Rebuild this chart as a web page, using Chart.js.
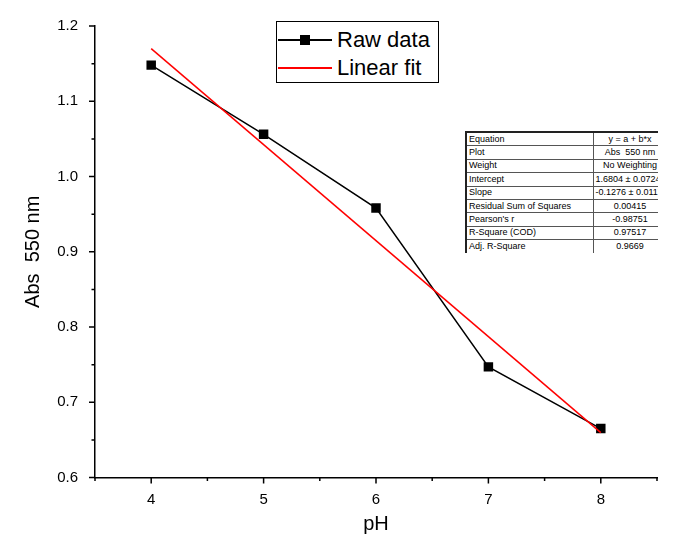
<!DOCTYPE html>
<html>
<head>
<meta charset="utf-8">
<script src="https://cdn.jsdelivr.net/npm/chart.js@4.4.0/dist/chart.umd.min.js"></script>
<style>
  html, body { margin: 0; padding: 0; background: #fff; }
  #wrap { position: relative; width: 675px; height: 549px; font-family: "Liberation Sans", Arial, sans-serif; }
  #wrap canvas { display: block; }
  .legend { position: absolute; left: 276px; top: 21px; width: 163px; height: 62px; border: 1px solid #000; box-sizing: border-box; background: #fff; }
  .legend .row { position: absolute; left: 0; height: 28px; width: 100%; }
  .legend .line { position: absolute; left: 1px; width: 54px; top: 13px; height: 2px; background: #000; }
  .legend .line.red { background: #ff0000; }
  .legend .mark { position: absolute; left: 23px; top: 9px; width: 10px; height: 10px; background: #000; }
  .legend .txt { position: absolute; left: 60px; top: 0; font-size: 22px; line-height: 28px; color: #000; white-space: nowrap; }
  .stats { position: absolute; left: 465px; top: 131px; width: 193px; height: 122px; overflow: hidden; background: #fff; }
  .stats table { border-collapse: collapse; width: 201px; table-layout: fixed; font-size: 9px; color: #000; border-top: 2px solid #222; border-left: 2px solid #222; }
  .stats td { border: 1px solid #555; height: 12.4px; padding: 0 2px; line-height: 11px; white-space: nowrap; overflow: hidden; }
  .stats td.v { text-align: center; }
</style>
</head>
<body>
<div id="wrap">
  <canvas id="absChart" width="675" height="549"></canvas>
  <div class="legend">
    <div class="row" style="top:4px"><span class="line"></span><span class="mark"></span><span class="txt">Raw data</span></div>
    <div class="row" style="top:32px"><span class="line red"></span><span class="txt">Linear fit</span></div>
  </div>
  <div class="stats"><table id="fitTable"><colgroup><col style="width:127px"><col style="width:74px"></colgroup><tbody></tbody></table></div>
</div>
<script>
'use strict';
// absorbance at 550 nm vs pH
const phValues  = [4, 5, 6, 7, 8];
const absValues = [1.148, 1.056, 0.958, 0.747, 0.665];

// straight-line fit y = a + b*x, evaluated at the ends of the pH range
const fitPh  = [4, 8];
const fitAbs = [1.1700, 0.6596];

// fit report
const statNames  = ['Equation', 'Plot', 'Weight', 'Intercept', 'Slope', 'Residual Sum of Squares', "Pearson's r", 'R-Square (COD)', 'Adj. R-Square'];
const statValues = ['y = a + b*x', 'Abs  550 nm', 'No Weighting', '1.6804 \u00b1 0.07246', '-0.1276 \u00b1 0.01175', '0.00415', '-0.98751', '0.97517', '0.9669'];

const xMin = 3.5, xMax = 8.5, yMin = 0.6, yMax = 1.2;

document.querySelector('#fitTable tbody').innerHTML = statNames.map((n, i) =>
  `<tr><td>${n.replace(/ {2}/g, ' &nbsp;')}</td><td class="v">${statValues[i].replace(/ {2}/g, ' &nbsp;')}</td></tr>`).join('');

// Origin-style outward ticks: long at labelled values, short halfway between
const axisTicks = {
  id: 'axisTicks',
  afterDraw(chart) {
    const { ctx, scales: { x, y } } = chart;
    const x0 = x.getPixelForValue(xMin), yb = y.getPixelForValue(yMin);
    ctx.save();
    ctx.strokeStyle = '#000';
    ctx.lineWidth = 1.5;
    ctx.beginPath();
    for (let k = 0; k <= (xMax - xMin) * 2; k++) {
      const v = xMin + k * 0.5;
      const px = x.getPixelForValue(v);
      const len = Number.isInteger(v) ? 6 : 3.5;
      ctx.moveTo(px, yb); ctx.lineTo(px, yb + len);
    }
    for (let k = 0; k <= Math.round((yMax - yMin) / 0.05); k++) {
      const v = yMin + k * 0.05;
      const py = y.getPixelForValue(v);
      const len = k % 2 === 0 ? 6 : 3.5;
      ctx.moveTo(x0, py); ctx.lineTo(x0 - len, py);
    }
    ctx.stroke();
    ctx.restore();
  }
};

const tickFont = { family: '"Liberation Sans", Arial, sans-serif', size: 15 };
const titleFont = { family: '"Liberation Sans", Arial, sans-serif', size: 20 };

new Chart(document.getElementById('absChart'), {
  type: 'line',
  data: {
    datasets: [
      {
        label: 'Raw data',
        data: phValues.map((p, i) => ({ x: p, y: absValues[i] })),
        borderColor: '#000', backgroundColor: '#000', borderWidth: 1.5,
        pointStyle: 'rect', pointRadius: 6.7, pointBorderWidth: 0,
        tension: 0, order: 1
      },
      {
        label: 'Linear fit',
        data: fitPh.map((p, i) => ({ x: p, y: fitAbs[i] })),
        borderColor: '#ff0000', borderWidth: 1.5, pointRadius: 0,
        tension: 0, order: 0
      }
    ]
  },
  options: {
    responsive: false,
    animation: false,
    layout: { padding: { top: 23, right: 18, left: 0, bottom: 0 } },
    plugins: { legend: { display: false }, tooltip: { enabled: false } },
    scales: {
      x: {
        type: 'linear', min: xMin, max: xMax,
        grid: { display: false, drawTicks: false },
        border: { display: true, color: '#000', width: 1.5 },
        ticks: {
          stepSize: 0.5, autoSkip: false, maxRotation: 0, color: '#000', font: tickFont, padding: 13,
          callback: v => Number.isInteger(v) ? String(v) : ''
        },
        title: { display: true, text: 'pH', color: '#000', font: titleFont, padding: { top: 0, bottom: 13 } },
        afterFit: s => { s.height = 71.5; }
      },
      y: {
        type: 'linear', min: yMin, max: yMax,
        grid: { display: false, drawTicks: false },
        border: { display: true, color: '#000', width: 1.5 },
        ticks: { stepSize: 0.1, color: '#000', font: tickFont, padding: 17, callback: v => v.toFixed(1) },
        title: { display: true, text: 'Abs  550 nm', color: '#000', font: titleFont, padding: { top: 21, bottom: 0 } },
        afterFit: s => { s.width = 95; }
      }
    }
  },
  plugins: [axisTicks]
});
</script>
</body>
</html>
